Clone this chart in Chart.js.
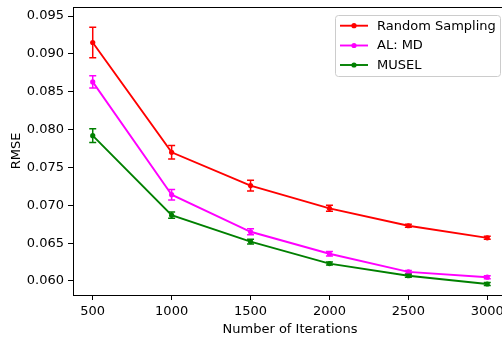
<!DOCTYPE html>
<html>
<head>
<meta charset="utf-8">
<script src="https://cdn.jsdelivr.net/npm/chart.js@4/dist/chart.umd.min.js"></script>
<style>
  html, body { margin: 0; padding: 0; background: #fff; overflow: hidden; }
  #wrap { width: 512px; height: 338px; }
</style>
</head>
<body>
<div id="wrap"><canvas id="rmse-chart" width="512" height="338"></canvas></div>
<script>
var iterations = [500, 1000, 1500, 2000, 2500, 3000];
var xTicks = [500, 1000, 1500, 2000, 2500, 3000];
var yTicks = [0.060, 0.065, 0.070, 0.075, 0.080, 0.085, 0.090, 0.095];

var seriesNames = ["Random Sampling", "AL: MD", "MUSEL"];
var seriesColors = ["#ff0000", "#ff00ff", "#008000"];

var randomRmse = [0.0915, 0.0770, 0.0726, 0.0696, 0.0673, 0.0657];
var randomErr  = [0.0020, 0.0009, 0.0007, 0.0004, 0.0002, 0.0002];
var almdRmse   = [0.0863, 0.0714, 0.0665, 0.0636, 0.0612, 0.0605];
var almdErr    = [0.0008, 0.0007, 0.0004, 0.0003, 0.0002, 0.0002];
var muselRmse  = [0.0792, 0.0687, 0.0652, 0.0623, 0.0607, 0.0596];
var muselErr   = [0.0009, 0.0004, 0.0003, 0.0002, 0.0002, 0.0002];

var allRmse = [randomRmse, almdRmse, muselRmse];
var allErr = [randomErr, almdErr, muselErr];

var FONT = "'DejaVu Sans', sans-serif";
var FSIZE = 13;

function makeDataset(i){
  var pts = [];
  for (var k = 0; k < iterations.length; k++){
    pts.push({x: iterations[k], y: allRmse[i][k]});
  }
  return {
    label: seriesNames[i],
    data: pts,
    borderColor: seriesColors[i],
    backgroundColor: seriesColors[i],
    borderWidth: 1.9,
    pointRadius: 2.6,
    pointHoverRadius: 2.6,
    pointBorderWidth: 0,
    tension: 0,
    errors: allErr[i]
  };
}

// error bars with caps, drawn through the scales
var errorBars = {
  id: 'errorBars',
  afterDatasetsDraw: function(chart){
    var ctx = chart.ctx, ys = chart.scales.y;
    chart.data.datasets.forEach(function(ds, i){
      var meta = chart.getDatasetMeta(i);
      ctx.save();
      ctx.strokeStyle = ds.borderColor;
      ctx.lineWidth = 1.5;
      meta.data.forEach(function(pt, k){
        var v = ds.data[k].y, e = ds.errors[k];
        var top = ys.getPixelForValue(v + e), bot = ys.getPixelForValue(v - e);
        ctx.beginPath();
        ctx.moveTo(pt.x, top); ctx.lineTo(pt.x, bot);
        ctx.moveTo(pt.x - 3.5, top); ctx.lineTo(pt.x + 3.5, top);
        ctx.moveTo(pt.x - 3.5, bot); ctx.lineTo(pt.x + 3.5, bot);
        ctx.stroke();
      });
      ctx.restore();
    });
  }
};

// spines + matplotlib-like legend
var frameAndLegend = {
  id: 'frameAndLegend',
  afterDraw: function(chart){
    var ctx = chart.ctx, a = chart.chartArea;
    ctx.save();
    ctx.strokeStyle = '#000';
    ctx.lineWidth = 1;
    ctx.strokeRect(Math.round(a.left) + 0.5, Math.round(a.top) + 0.5,
                   Math.round(a.right - a.left), Math.round(a.bottom - a.top));

    // legend box
    var bx = 335.5, by = 15.5, bw = 165, bh = 61, r = 3;
    ctx.beginPath();
    ctx.moveTo(bx + r, by);
    ctx.arcTo(bx + bw, by, bx + bw, by + bh, r);
    ctx.arcTo(bx + bw, by + bh, bx, by + bh, r);
    ctx.arcTo(bx, by + bh, bx, by, r);
    ctx.arcTo(bx, by, bx + bw, by, r);
    ctx.closePath();
    ctx.fillStyle = 'rgba(255,255,255,0.8)';
    ctx.fill();
    ctx.strokeStyle = '#cccccc';
    ctx.stroke();

    ctx.font = FSIZE + 'px ' + FONT;
    ctx.textBaseline = 'middle';
    ctx.textAlign = 'left';
    var rows = [25.7, 45.5, 65];
    for (var i = 0; i < seriesNames.length; i++){
      var y = rows[i];
      ctx.strokeStyle = seriesColors[i];
      ctx.lineWidth = 1.9;
      ctx.beginPath();
      ctx.moveTo(340, y); ctx.lineTo(368, y);
      ctx.stroke();
      ctx.fillStyle = seriesColors[i];
      ctx.beginPath();
      ctx.arc(354, y, 2.6, 0, Math.PI * 2);
      ctx.fill();
      ctx.fillStyle = '#000';
      ctx.fillText(seriesNames[i], 377, y + 0.5);
    }
    ctx.restore();
  }
};

function noPad(s){
  s.paddingTop = 0; s.paddingBottom = 0; s.paddingLeft = 0; s.paddingRight = 0;
}

var chart = new Chart(document.getElementById('rmse-chart'), {
  type: 'line',
  data: { datasets: [0, 1, 2].map(makeDataset) },
  plugins: [errorBars, frameAndLegend],
  options: {
    responsive: false,
    animation: false,
    events: [],
    layout: { padding: { top: 7, right: 5, left: 0, bottom: 0 } },
    plugins: { legend: { display: false }, tooltip: { enabled: false } },
    scales: {
      x: {
        type: 'linear',
        min: 375,
        max: 3125,
        afterBuildTicks: function(s){ s.ticks = xTicks.map(function(v){ return {value: v}; }); },
        afterFit: function(s){ s.height = 43; noPad(s); },
        grid: { drawOnChartArea: false, drawTicks: true, tickLength: 5, color: '#000', lineWidth: 1 },
        border: { display: false },
        ticks: { color: '#000', padding: 4, maxRotation: 0, font: { family: FONT, size: FSIZE },
                 callback: function(v){ return String(v); } },
        title: { display: true, text: 'Number of Iterations', color: '#000',
                 font: { family: FONT, size: FSIZE, lineHeight: 1.2 }, padding: { top: 0, bottom: 1 } }
      },
      y: {
        type: 'linear',
        min: 0.05815,
        max: 0.09619,
        afterBuildTicks: function(s){ s.ticks = yTicks.map(function(v){ return {value: v}; }); },
        afterFit: function(s){ s.width = 73; noPad(s); },
        grid: { drawOnChartArea: false, drawTicks: true, tickLength: 5, color: '#000', lineWidth: 1 },
        border: { display: false },
        ticks: { color: '#000', padding: 4, font: { family: FONT, size: FSIZE },
                 callback: function(v){ return v.toFixed(3); } },
        title: { display: true, text: 'RMSE', color: '#000',
                 font: { family: FONT, size: FSIZE, lineHeight: 1.2 }, padding: { top: 9, bottom: 0 } }
      }
    }
  }
});
</script>
</body>
</html>
